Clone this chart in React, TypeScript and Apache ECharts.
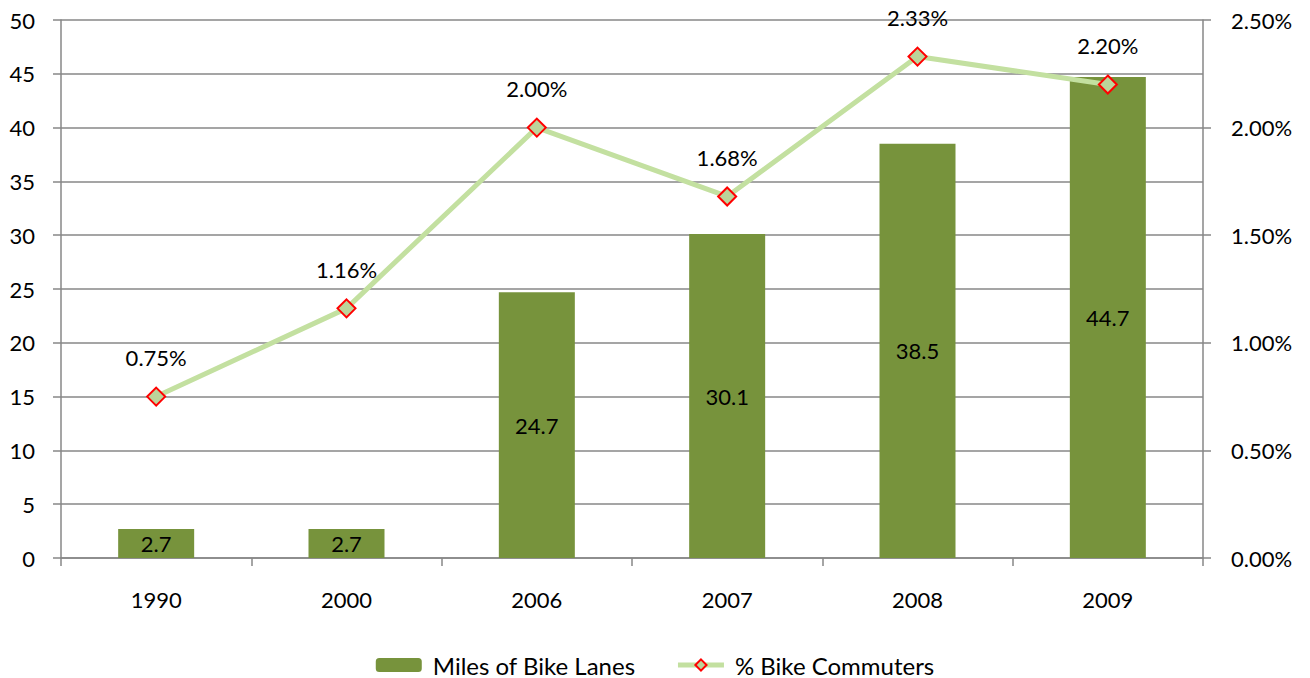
import React, { useEffect, useRef } from "react";
import * as echarts from "echarts";

const categories = ["1990", "2000", "2006", "2007", "2008", "2009"];
const milesOfBikeLanes = [2.7, 2.7, 24.7, 30.1, 38.5, 44.7];
const pctBikeCommuters = [0.75, 1.16, 2.0, 1.68, 2.33, 2.2];
const seriesNames = ["Miles of Bike Lanes", "% Bike Commuters"];

const FONT = "Lato, 'Open Sans', sans-serif";
const GRID = "#878787";
const FS = 22;

export default function App() {
  const ref = useRef<HTMLDivElement>(null);
  useEffect(() => {
    if (!ref.current) return;
    const chart = echarts.init(ref.current, undefined, { renderer: "svg" });
    chart.setOption({
      animation: false,
      textStyle: { fontFamily: FONT },
      grid: { left: 61, right: 107, top: 20, bottom: 120 },
      legend: {
        top: 648,
        left: "center",
        itemWidth: 46,
        itemHeight: 14,
        itemGap: 40,
        lineStyle: { width: 5 },
        textStyle: { fontSize: 24, color: "#000", fontFamily: FONT, padding: [0, 0, 0, 6] },
        data: [{ name: seriesNames[0] }, { name: seriesNames[1] }],
      },
      xAxis: {
        type: "category",
        data: categories,
        axisLine: { lineStyle: { color: GRID, width: 1.5 } },
        axisTick: { show: true, length: 8, lineStyle: { color: GRID, width: 1.5 } },
        axisLabel: { color: "#000", fontSize: FS, margin: 30, fontFamily: FONT },
      },
      yAxis: [
        {
          type: "value",
          min: 0,
          max: 50,
          interval: 5,
          axisLine: { show: true, lineStyle: { color: GRID, width: 1.5 } },
          axisTick: { show: true, length: 8, lineStyle: { color: GRID, width: 1.5 } },
          splitLine: { lineStyle: { color: GRID, width: 1.5 } },
          axisLabel: { color: "#000", fontSize: FS, margin: 26, fontFamily: FONT },
        },
        {
          type: "value",
          min: 0,
          max: 2.5,
          interval: 0.5,
          position: "right",
          axisLine: { show: true, lineStyle: { color: GRID, width: 1.5 } },
          axisTick: { show: true, length: 8, lineStyle: { color: GRID, width: 1.5 } },
          splitLine: { show: false },
          axisLabel: {
            color: "#000",
            fontSize: FS,
            margin: 28,
            fontFamily: FONT,
            formatter: (v: number) => v.toFixed(2) + "%",
          },
        },
      ],
      series: [
        {
          name: seriesNames[0],
          type: "bar",
          data: milesOfBikeLanes,
          barWidth: 76,
          itemStyle: { color: "#77933C" },
          label: {
            show: true,
            position: "inside",
            color: "#000",
            fontSize: FS,
            fontFamily: FONT,
            formatter: (p: any) => p.value.toFixed(1),
          },
        },
        {
          name: seriesNames[1],
          type: "line",
          yAxisIndex: 1,
          data: pctBikeCommuters,
          symbol: "diamond",
          symbolSize: 18,
          lineStyle: { color: "#C3E0A0", width: 5 },
          itemStyle: { color: "#BCD49A", borderColor: "#FF0000", borderWidth: 2 },
          label: {
            show: true,
            position: "top",
            distance: 18,
            color: "#000",
            fontSize: FS,
            fontFamily: FONT,
            formatter: (p: any) => p.value.toFixed(2) + "%",
          },
          z: 5,
        },
      ],
    });
    return () => chart.dispose();
  }, []);
  return (
    <div
      ref={ref}
      style={{ position: "absolute", left: 0, top: 0, width: 1310, height: 678 }}
    />
  );
}
